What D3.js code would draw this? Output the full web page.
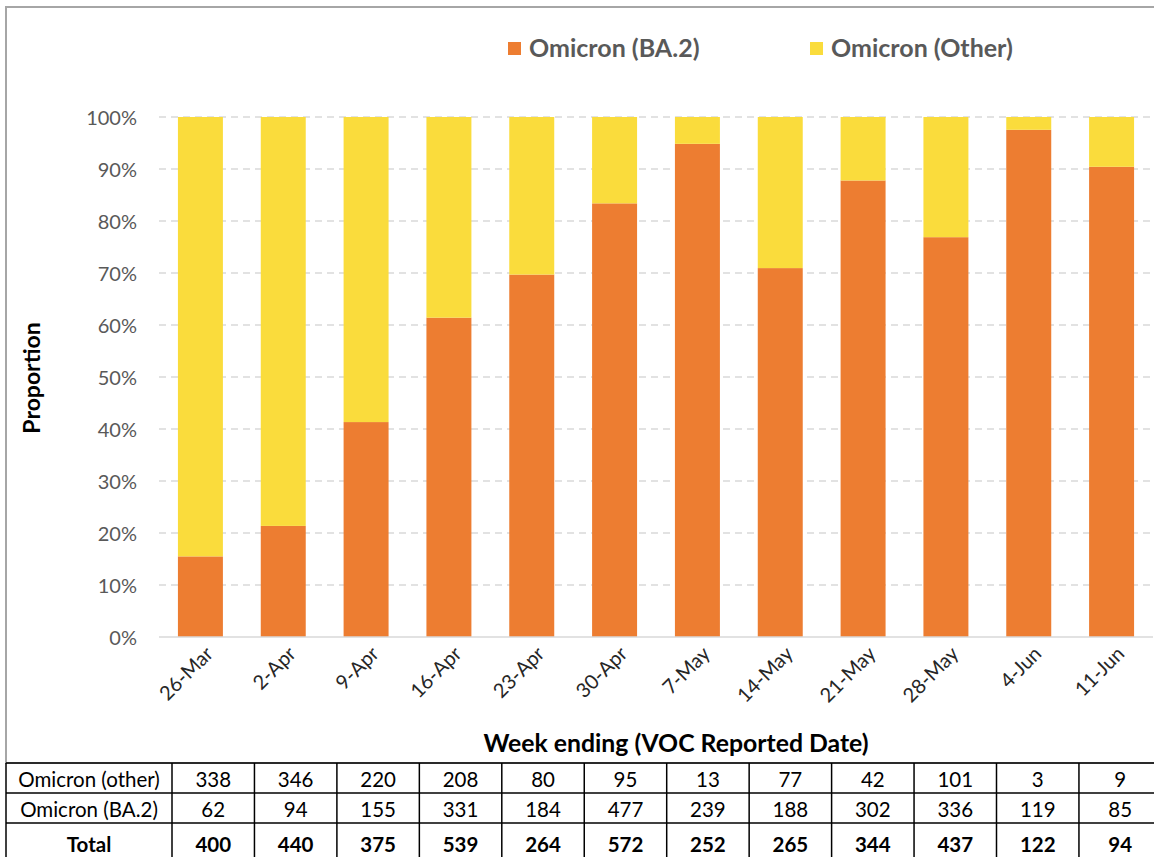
<!DOCTYPE html>
<html><head><meta charset="utf-8">
<script src="https://cdn.jsdelivr.net/npm/d3@7"></script>
<style>
html,body{margin:0;padding:0;background:#fff;}
svg{display:block;font-family:Lato,"Open Sans",sans-serif;}
</style></head>
<body>
<svg id="c" width="1154" height="857"></svg>
<script>
const categories = ["26-Mar","2-Apr","9-Apr","16-Apr","23-Apr","30-Apr","7-May","14-May","21-May","28-May","4-Jun","11-Jun"];
const otherCounts = [338,346,220,208,80,95,13,77,42,101,3,9];
const ba2Counts = [62,94,155,331,184,477,239,188,302,336,119,85];
const totals = [400,440,375,539,264,572,252,265,344,437,122,94];
const seriesNames = ["Omicron (BA.2)","Omicron (Other)"];
const tableRowLabels = ["Omicron (other)","Omicron (BA.2)","Total"];
const yTicks = [0,0.1,0.2,0.3,0.4,0.5,0.6,0.7,0.8,0.9,1.0];

(function(){
const colors = {"Omicron (BA.2)":"#ED7D31","Omicron (Other)":"#FADC3C"};
const svg = d3.select("#c");

// frame
svg.append("rect").attr("x",6).attr("y",7).attr("width",1160).attr("height",756)
  .attr("fill","none").attr("stroke","#A6A6A6").attr("stroke-width",2);

const pLeft=159, pRight=1153, pTop=117, pBottom=637;
const x = d3.scaleBand().domain(categories).range([pLeft,pRight]).paddingInner(0.457).paddingOuter(0.2285);
const y = d3.scaleLinear().domain([0,1]).range([pBottom,pTop]);

// gridlines
svg.append("g").selectAll("line").data(yTicks.filter(d=>d>0)).join("line")
  .attr("x1",pLeft).attr("x2",pRight).attr("y1",d=>y(d)).attr("y2",d=>y(d))
  .attr("stroke","#D9D9D9").attr("stroke-width",1.3).attr("stroke-dasharray","7,5");

const rows = categories.map((c,i)=>({cat:c, ba2: ba2Counts[i]/totals[i], other: 1-ba2Counts[i]/totals[i]}));
const stack = d3.stack().keys(["ba2","other"])(rows);
const keyColor = {ba2:colors["Omicron (BA.2)"], other:colors["Omicron (Other)"]};
svg.append("g").selectAll("g").data(stack).join("g").attr("fill",d=>keyColor[d.key])
  .selectAll("rect").data(d=>d).join("rect")
  .attr("x",d=>x(d.data.cat)).attr("width",x.bandwidth())
  .attr("y",d=>y(d[1])).attr("height",d=>y(d[0])-y(d[1]));

// baseline
svg.append("line").attr("x1",pLeft).attr("x2",pRight).attr("y1",pBottom).attr("y2",pBottom)
  .attr("stroke","#D9D9D9").attr("stroke-width",1.5);

// y axis
const yAxis = d3.axisLeft(y).tickValues(yTicks).tickFormat(d3.format(".0%")).tickSize(0).tickPadding(0);
const yg = svg.append("g").attr("transform",`translate(137,0)`).call(yAxis);
yg.select(".domain").remove();
yg.selectAll("text").attr("fill","#595959").attr("font-size",20).attr("dy","0.35em").attr("font-family","Lato,sans-serif");

// x axis
const xAxis = d3.axisBottom(x).tickSize(0).tickPadding(0);
const xg = svg.append("g").attr("transform",`translate(0,${pBottom})`).call(xAxis);
xg.select(".domain").remove();
xg.selectAll("text").attr("fill","#262626").attr("font-size",20).attr("font-family","Lato,sans-serif")
  .attr("text-anchor","end").attr("dy",0).attr("y",0)
  .attr("transform","translate(14,18) rotate(-45)");

// axis titles
svg.append("text").attr("transform","translate(40,378) rotate(-90)").attr("text-anchor","middle")
  .attr("font-size",23).attr("font-weight","bold").attr("fill","#000").text("Proportion");
svg.append("text").attr("x",676).attr("y",752).attr("text-anchor","middle")
  .attr("font-size",24.8).attr("font-weight","bold").attr("fill","#000").text("Week ending (VOC Reported Date)");

// legend
const legX = [508,810];
seriesNames.forEach((s,i)=>{
  svg.append("rect").attr("x",legX[i]).attr("y",42).attr("width",13).attr("height",13).attr("fill",colors[s]);
  svg.append("text").attr("x",legX[i]+21).attr("y",57).attr("font-size",25).attr("font-weight","bold")
    .attr("fill","#595959").text(s);
});

// table
const tLeft=6, firstW=166, colW=82.45;
const rowY=[763,793,823];
const tableData=[otherCounts,ba2Counts,totals];
const tg = svg.append("g");
rowY.forEach(yy=>tg.append("line").attr("x1",tLeft).attr("x2",1154).attr("y1",yy).attr("y2",yy).attr("stroke","#000").attr("stroke-width",1.5));
const colXs=[tLeft, tLeft+firstW].concat(d3.range(1,13).map(i=>tLeft+firstW+i*colW));
colXs.forEach(cx=>tg.append("line").attr("x1",cx).attr("x2",cx).attr("y1",763).attr("y2",857).attr("stroke","#000").attr("stroke-width",1.5));
const textY=[787,817,852];
tableRowLabels.forEach((lab,r)=>{
  tg.append("text").attr("x",tLeft+firstW/2).attr("y",textY[r]).attr("text-anchor","middle")
    .attr("font-size",20.5).attr("font-weight",r===2?"bold":"normal").attr("fill","#000").text(lab);
  tableData[r].forEach((v,i)=>{
    tg.append("text").attr("x",tLeft+firstW+i*colW+colW/2).attr("y",textY[r]).attr("text-anchor","middle")
      .attr("font-size",20.5).attr("font-weight",r===2?"bold":"normal").attr("fill","#000").text(v);
  });
});
})();
</script>
</body></html>
